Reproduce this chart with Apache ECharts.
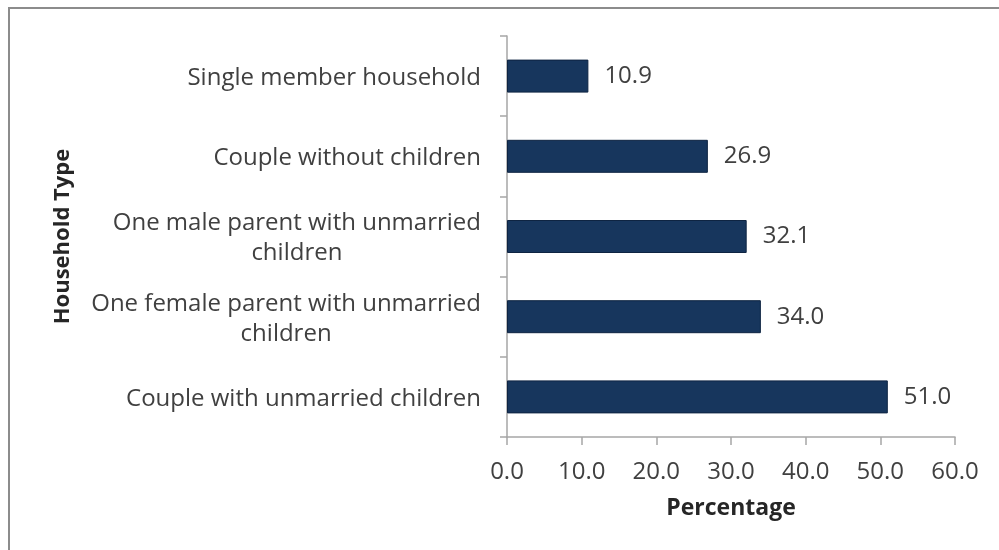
<!DOCTYPE html>
<html>
<head>
<meta charset="utf-8">
<script src="https://cdn.jsdelivr.net/npm/echarts@6/dist/echarts.min.js"></script>
<style>
html,body{margin:0;padding:0;background:#fff;}
#chart{width:999px;height:550px;}
</style>
</head>
<body>
<div id="chart"></div>
<script>
// Categories listed bottom-to-top (ECharts category y axis order)
const categories = [
  "Couple with unmarried children",
  "One female parent with unmarried\nchildren",
  "One male parent with unmarried\nchildren",
  "Couple without children",
  "Single member household"
];
const percentages = [51.0, 34.0, 32.1, 26.9, 10.9];
const xTicks = { min: 0, max: 60, interval: 10 };
const xAxisTitle = "Percentage";
const yAxisTitle = "Household Type";

const FONT = "'Open Sans', 'Liberation Sans', sans-serif";
const chart = echarts.init(document.getElementById('chart'), null, { renderer: 'canvas' });

chart.setOption({
  backgroundColor: '#ffffff',
  animation: false,
  graphic: [{
    type: 'rect',
    shape: { x: 9, y: 8, width: 1100, height: 700 },
    style: { fill: 'none', stroke: '#8c8c8c', lineWidth: 2 },
    silent: true,
    z: 100
  }],
  grid: { left: 507, right: 44, top: 36, bottom: 113, containLabel: false },
  xAxis: {
    type: 'value',
    min: xTicks.min,
    max: xTicks.max,
    interval: xTicks.interval,
    name: xAxisTitle,
    nameLocation: 'middle',
    nameGap: 60,
    nameTextStyle: { fontFamily: FONT, fontSize: 23, fontWeight: 'bold', color: '#262626' },
    axisLine: { show: true, lineStyle: { color: '#a6a6a6', width: 1.5 } },
    axisTick: { show: true, length: 8, lineStyle: { color: '#a6a6a6', width: 1.5 } },
    axisLabel: {
      margin: 23,
      fontFamily: FONT, fontSize: 24, color: '#404040',
      formatter: v => v.toFixed(1)
    },
    splitLine: { show: false }
  },
  yAxis: {
    type: 'category',
    data: categories,
    name: yAxisTitle,
    nameLocation: 'middle',
    nameGap: 433,
    nameTextStyle: { fontFamily: FONT, fontSize: 22, fontWeight: 'bold', color: '#262626' },
    axisLine: { show: true, lineStyle: { color: '#a6a6a6', width: 1.5 } },
    axisTick: { show: true, length: 7, lineStyle: { color: '#a6a6a6', width: 1.5 } },
    axisLabel: {
      margin: 26,
      align: 'right',
      padding: [4, 0, 0, 0],
      formatter: v => v.split('\n').map(l => '{c|' + l + '}').join('\n'),
      rich: {
        c: { align: 'center', fontFamily: FONT, fontSize: 24, color: '#404040', lineHeight: 30 }
      }
    }
  },
  series: [{
    type: 'bar',
    data: percentages,
    barWidth: 33,
    itemStyle: { color: '#17365d', borderColor: '#0e2442', borderWidth: 1 },
    label: {
      show: true,
      position: 'right',
      distance: 16,
      fontFamily: FONT,
      fontSize: 24,
      color: '#404040',
      formatter: p => p.value.toFixed(1)
    }
  }]
});
</script>
</body>
</html>
